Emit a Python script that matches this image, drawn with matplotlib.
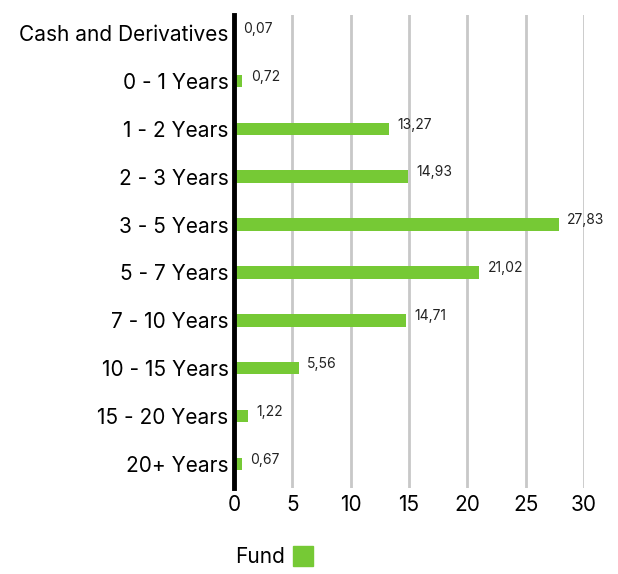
import matplotlib
matplotlib.use("Agg")
import matplotlib.pyplot as plt
from matplotlib.patches import Rectangle

categories = ["Cash and Derivatives", "0 - 1 Years", "1 - 2 Years", "2 - 3 Years", "3 - 5 Years",
              "5 - 7 Years", "7 - 10 Years", "10 - 15 Years", "15 - 20 Years", "20+ Years"]
values = [0.07, 0.72, 13.27, 14.93, 27.83, 21.02, 14.71, 5.56, 1.22, 0.67]
xticks = [0, 5, 10, 15, 20, 25, 30]
series_name = "Fund"

plt.rcParams['font.family'] = ['Inter', 'DejaVu Sans']
green = "#76c935"

fig = plt.figure(figsize=(6.18, 5.74), dpi=100)
ax = fig.add_axes([234/618, 1-488/574, 350/618, (488-15)/574])

y = list(range(len(categories)))
ax.barh(y, values, height=0.26, color=green, zorder=3)
ax.set_ylim(9.5, -0.375)
ax.set_xlim(0, 30)
ax.set_xticks(xticks)
ax.set_xticklabels([str(t) for t in xticks], fontsize=15)
ax.set_yticks(y)
ax.set_yticklabels(categories, fontsize=15)
ax.tick_params(axis='both', length=0)
ax.tick_params(axis='x', pad=5)
ax.tick_params(axis='y', pad=4)
for s in ['top', 'right', 'bottom']:
    ax.spines[s].set_visible(False)
ax.spines['left'].set_linewidth(3.5)
ax.spines['left'].set_color('black')
ax.spines['left'].set_zorder(5)
ax.xaxis.grid(True, color='#c8c8c8', linewidth=2, zorder=0)
ax.set_axisbelow(True)

for yi, v in zip(y, values):
    ax.annotate(f"{v:.2f}".replace('.', ','), xy=(v, yi), xytext=(6, 3),
                textcoords='offset points', fontsize=10, va='center', ha='left', color='#222222')

fig.text(235/618, 1-557/574, series_name, fontsize=15, va='center', ha='left')
fig.patches.append(Rectangle((293/618, 1-566/574), 20/618, 20/574, transform=fig.transFigure,
                             color=green, figure=fig))

fig.savefig("out.png", dpi=100)
